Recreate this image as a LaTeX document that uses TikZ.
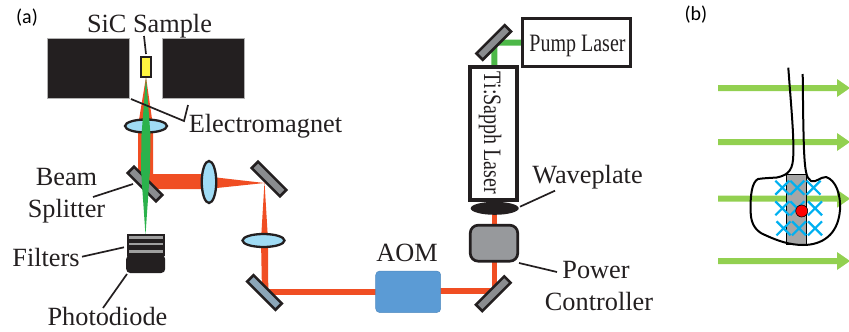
\documentclass[tikz,border=0pt]{standalone}
\usepackage{fontspec}
\setmainfont{Liberation Serif}
\newfontfamily\labelfont{Carlito}
\definecolor{inkc}{HTML}{231F20}
\definecolor{redbeam}{HTML}{F04E23}
\definecolor{greenbeam}{HTML}{2BB24C}
\definecolor{pumpgreen}{HTML}{4DB848}
\definecolor{lensblue}{HTML}{A0DCF5}
\definecolor{mirrorgray}{HTML}{8A8C8F}
\definecolor{mirrorblue}{HTML}{8CA6B8}
\definecolor{aomblue}{HTML}{5B9BD5}
\definecolor{pcgray}{HTML}{97999C}
\definecolor{arrowgreen}{HTML}{92D050}
\definecolor{crosscyan}{HTML}{00B0F0}
\definecolor{coregray}{HTML}{A6A6A6}
\tikzset{
 lbl/.style={inner sep=0pt,anchor=base,text=inkc,font=\fontsize{26.3}{28}\selectfont},
 panel/.style={inner sep=0pt,text=black,font=\labelfont\fontsize{20}{22}\selectfont},
 leader/.style={draw=inkc,line width=1.7pt},
 magnet/.style={draw=gray!60,line width=.5pt,fill=inkc},
 lens/.style={ellipse,draw=inkc,line width=2.3pt,fill=lensblue,inner sep=0pt},
 mirror/.style={draw=inkc,line width=2.6pt,fill=mirrorgray},
 boxk/.style={draw=inkc,line width=3.2pt,fill=white},
 greenarrow/.style={fill=arrowgreen},
 crossm/.style={draw=crosscyan,line width=2.2pt},
}
\usetikzlibrary{shapes.geometric}
\newcommand{\mirrorat}[4][mirror]{\draw[#1,rotate around={#4:(#2,#3)}] (#2-20,#3-4.5) rectangle (#2+20,#3+4.5);}
\newcommand{\greenarr}[1]{\fill[greenarrow] (718,#1-3) -- (837,#1-3) -- (837,#1-9) -- (850,#1) -- (837,#1+9) -- (837,#1+3) -- (718,#1+3) -- cycle;}
\newcommand{\crossat}[2]{\draw[crossm] (#1-7,#2-7) -- (#1+7,#2+7) (#1-7,#2+7) -- (#1+7,#2-7);}
\begin{document}
\begin{tikzpicture}[x=1pt,y=-1pt]
\useasboundingbox (0,0) rectangle (849,332);
% panel labels
\node[panel] (pa) at (27,18) {(a)};
\node[panel] (pb) at (696,15) {(b)};
% magnets
\node[magnet,minimum width=82.5pt,minimum height=60pt,inner sep=0pt] (magl) at (88,68) {};
\node[magnet,minimum width=82.5pt,minimum height=60pt,inner sep=0pt] (magr) at (203,68) {};
% red beams
\fill[redbeam] (146,77) -- (153,126) -- (153,174) -- (203,174) -- (203,189) -- (155,189) -- (138,172) -- (138,126) -- cycle;
\mirrorat{145}{184}{-45}
\node[lens,minimum width=42pt,minimum height=13pt] (lensa) at (146,126) {};
% green probe
\fill[greenbeam] (146,77) -- (150.5,135) -- (150,170) -- (145.5,235) -- (141,170) -- (141.5,135) -- cycle;
% sample
\node[draw=inkc,line width=1.8pt,fill=yellow!75!white,minimum width=10pt,minimum height=20pt,inner sep=0pt] (sample) at (146.2,67) {};
% second lens and focus
\fill[redbeam] (212,177) -- (264.5,183) -- (212,188.5) -- cycle;
\mirrorat{269}{179}{-45}
\fill[redbeam] (264.5,182) -- (268,240) -- (268.3,292) -- (262,292) -- (261,240) -- cycle;
\node[lens,minimum width=14.5pt,minimum height=42pt] (lensb) at (209,182) {};
\node[lens,minimum width=42pt,minimum height=13pt] (lensc) at (263.5,240.5) {};
% long run
\fill[redbeam] (262,289) rectangle (376,295);
\mirrorat[mirror,fill=mirrorblue]{264.5}{292.5}{-45}
\fill[redbeam] (440,287.5) rectangle (494,293.5);
\fill[redbeam] (491.5,262) rectangle (497,292);
\fill[redbeam] (491.5,212) rectangle (497,226);
\mirrorat{493.3}{293.7}{45}
\node[draw=aomblue!90!black,line width=.5pt,rounded corners=4pt,fill=aomblue,minimum width=65pt,minimum height=41.5pt,inner sep=0pt] (aom) at (408.2,291.8) {};
% pump
\fill[pumpgreen] (491.3,66) -- (491.3,39.5) -- (522,39.5) -- (522,45.5) -- (497.3,45.5) -- (497.3,66) -- cycle;
\mirrorat{493.7}{42.5}{45}
\node[boxk,minimum width=108pt,minimum height=48pt,inner sep=0pt] (pump) at (576.5,42.5) {};
\node[lbl,font=\fontsize{25}{27}\selectfont] (pumpt) at (577.5,51.7) {\scalebox{.8}[1]{Pump Laser}};
\node[boxk,minimum width=47pt,minimum height=133pt,inner sep=0pt] (ti) at (493.5,133.5) {};
\node[lbl,rotate=-90,font=\fontsize{25}{27}\selectfont] (tit) at (484,133) {\scalebox{.8}[1]{Ti:Sapph Laser}};
\node[ellipse,fill=inkc,minimum width=48pt,minimum height=13pt,inner sep=0pt] (wave) at (494.7,208.3) {};
\node[draw=inkc,line width=2.7pt,rounded corners=8pt,fill=pcgray,minimum width=47.5pt,minimum height=36pt,inner sep=0pt] (pc) at (494,243.2) {};
% filters and photodiode
\node[fill=inkc,minimum width=38pt,minimum height=22pt,inner sep=0pt] (filt) at (145.5,245) {};
\fill[gray!75] (129,236) rectangle (163,238.5);
\fill[gray!75] (129,242.5) rectangle (163,245);
\fill[gray!75] (129,250) rectangle (163,252.5);
\node[fill=inkc,rounded corners=4pt,minimum width=39pt,minimum height=18pt,inner sep=0pt] (pd) at (145.7,264) {};
% labels
\node[lbl] (tsic) at (149.5,32) {SiC Sample};
\node[lbl] (tem) at (265.5,132.7) {Electromagnet};
\node[lbl] (tbs) at (66.5,185) {Beam};
\node[lbl] (tsp) at (66.5,217.3) {Splitter};
\node[lbl] (tfi) at (46,266) {Filters};
\node[lbl] (tpd) at (107.5,325.7) {Photodiode};
\node[lbl] (taom) at (407,261.7) {AOM};
\node[lbl] (twp) at (587.5,183.3) {Waveplate};
\node[lbl] (tpw) at (596,278.3) {Power};
\node[lbl] (tct) at (599,310) {Controller};
% leaders
\coordinate (c1) at (144,36); \coordinate (c2) at (146,54);
\draw[leader] (c1) -- (c2);
\coordinate (e1) at (131,99); \coordinate (e2) at (184,121); \coordinate (e3) at (188,105);
\draw[leader] (e1) -- (e2) -- (e3);
\coordinate (b1) at (93,197); \coordinate (b2) at (133,184);
\draw[leader] (b1) -- (b2);
\coordinate (f1) at (82,256.7); \coordinate (f2) at (124,247.3);
\draw[leader] (f1) -- (f2);
\coordinate (p1) at (103,308); \coordinate (p2) at (127,274);
\draw[leader] (p1) -- (p2);
\coordinate (w1) at (520,206.7); \coordinate (w2) at (555,190.7);
\draw[leader] (w1) -- (w2);
\coordinate (q1) at (519,263); \coordinate (q2) at (557,272);
\draw[leader] (q1) -- (q2);
% panel b
\greenarr{88}
\greenarr{142}
\greenarr{198.7}
\greenarr{261}
\draw[draw=black,line width=.8pt,fill=coregray] (786.7,174) rectangle (806.7,244.3);
\draw[black,line width=2pt,line join=round] (788.3,67.7) .. controls (791,105) and (794,135) .. (793.3,155)
 .. controls (793,168) and (790,175) .. (776.7,177.5)
 .. controls (770,178) and (765,178) .. (758,179)
 .. controls (752,182) and (750,195) .. (750.7,213)
 .. controls (751,225) and (757,232) .. (765,235)
 .. controls (778,241) and (790,245) .. (803,245)
 .. controls (822,245) and (838,235) .. (840,210)
 .. controls (841,195) and (836,180) .. (826,177)
 .. controls (820,177) and (816,183) .. (811,181)
 .. controls (806,178) and (805,170) .. (804,150)
 .. controls (803,120) and (803,95) .. (802.7,74);
\crossat{782.3}{187.7}\crossat{797.3}{187.7}\crossat{813.5}{187.7}
\crossat{782.3}{208.3}\crossat{797.3}{208.3}\crossat{815}{208.3}
\crossat{783.5}{228.3}\crossat{799}{228.3}\crossat{815}{228.3}
\node[circle,draw=black,line width=.6pt,fill=red,minimum size=12pt,inner sep=0pt] (dot) at (801.7,211) {};
\end{tikzpicture}
\end{document}
